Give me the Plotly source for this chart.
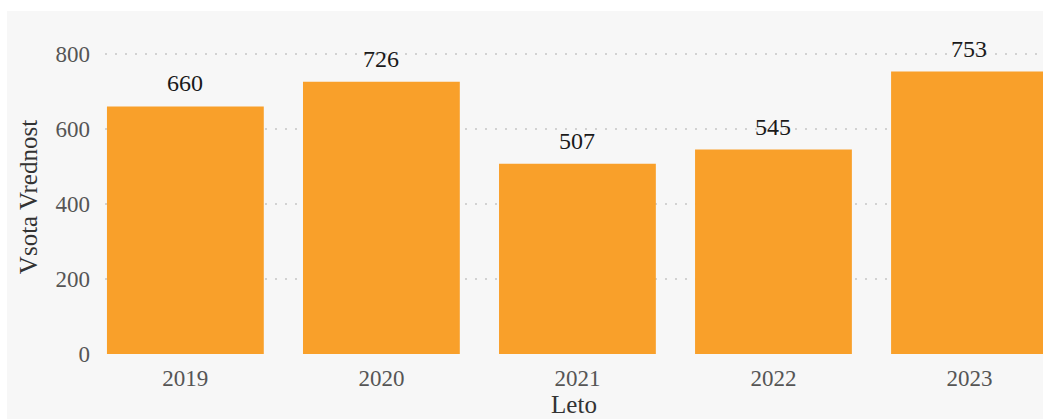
import plotly.graph_objects as go

years = ["2019", "2020", "2021", "2022", "2023"]
values = [660, 726, 507, 545, 753]
y_ticks = [0, 200, 400, 600, 800]

BAR = "#F9A02A"
BG = "#F7F7F7"
FONT = "Liberation Serif, Times New Roman, serif"

idx = list(range(len(years)))

fig = go.Figure(go.Bar(x=idx, y=values, marker_color=BAR, marker_line_width=0))

for i, v in zip(idx, values):
    fig.add_annotation(x=i, y=v, text=str(v), showarrow=False, yanchor="bottom",
                       yshift=8, font=dict(family=FONT, size=24, color="#1a1a1a"))

fig.update_layout(
    width=1036, height=408,
    margin=dict(l=98, r=0, t=29, b=65),
    paper_bgcolor=BG, plot_bgcolor=BG,
    bargap=0.2, showlegend=False,
    font=dict(family=FONT, size=23, color="#555555"),
)
fig.update_xaxes(
    range=[-0.41, 4.375], tickvals=idx, ticktext=years, showgrid=False, showline=False,
    zeroline=False, ticks="", ticklabelstandoff=8,
    title=dict(text="Leto", font=dict(family=FONT, size=25, color="#333333"), standoff=1),
)
fig.update_yaxes(
    range=[0, 837], tickvals=y_ticks, showgrid=True, gridcolor="#D2D2D2", griddash="2px,8px",
    gridwidth=1.5, zeroline=False,
    showline=False, ticks="", ticklabelstandoff=14,
    title=dict(text="Vsota Vrednost", font=dict(family=FONT, size=25, color="#333333"), standoff=10),
)

fig.write_html(
    "out.html",
    post_script="document.documentElement.style.overflow='hidden';"
                "document.body.style.overflow='hidden';"
                "document.body.style.margin='11px 0 0 7px';",
)
